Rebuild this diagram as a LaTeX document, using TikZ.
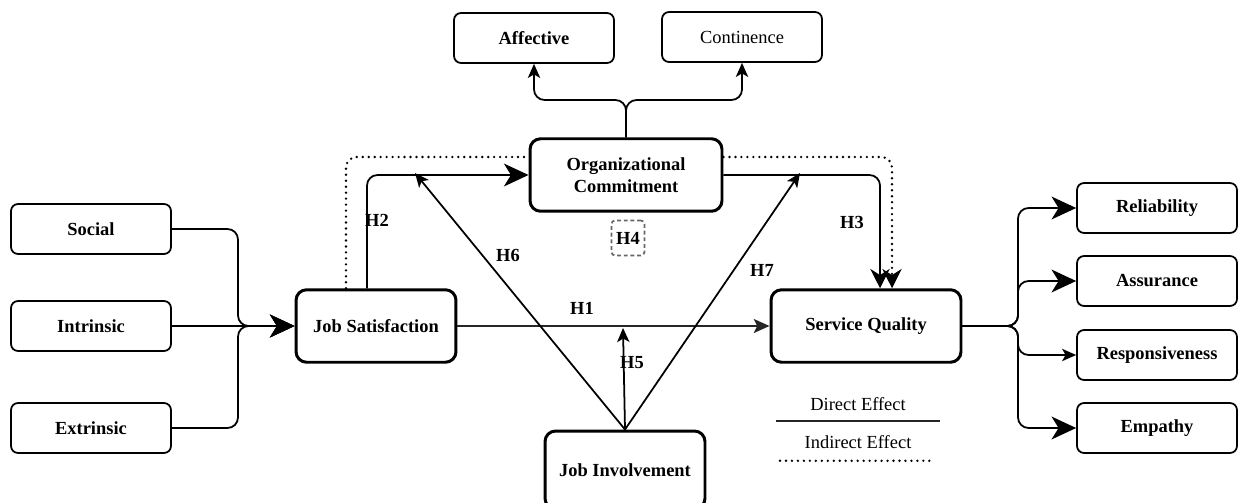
\documentclass[tikz,border=0pt]{standalone}
\usepackage{fontspec}
\setmainfont{Liberation Serif}
\usetikzlibrary{positioning,calc,arrows.meta}

\newcommand{\dgfont}{\fontsize{10.5pt}{12.5pt}\selectfont}

\tikzset{
  dimbox/.style={draw, rounded corners=4pt, line width=1pt, minimum width=3.2cm, minimum height=1cm, font=\dgfont\bfseries},
  mainbox/.style={draw, rounded corners=6pt, line width=1.7pt, minimum width=3.2cm, minimum height=1.45cm, align=center, font=\dgfont\bfseries},
  hlabel/.style={font=\dgfont\bfseries, inner sep=1pt},
  link/.style={line width=1pt, rounded corners=6pt},
  indirect/.style={line width=1.5pt, line cap=round, dash pattern=on 0pt off 3.4pt, rounded corners=6pt},
  bigtip/.style={-{Stealth[length=14pt, width=13pt, inset=4pt]}},
  midtip/.style={-{Stealth[length=8pt, width=7pt, inset=2pt]}},
  toptip/.style={-{Stealth[length=11pt, width=11pt, inset=3.5pt]}},
}

\begin{document}
\begin{tikzpicture}[x=0.02cm, y=-0.02cm]
  \useasboundingbox (0,0) rectangle (1239,503);

  % constructs
  \node[mainbox, minimum width=3.84cm] (oc) at (626,175) {Organizational\\Commitment};
  \node[mainbox] (js) at (376,326) {Job Satisfaction};
  \node[mainbox, minimum width=3.8cm] (sq) at (866,326) {Service Quality};
  \node[mainbox, minimum height=1.56cm] (ji) at (625,470) {Job Involvement};

  % dimensions
  \node[dimbox] (aff) at (534,38) {Affective};
  \node[dimbox, font=\dgfont] (con) at (742,37) {Continence};
  \node[dimbox] (soc) at (91,229) {Social};
  \node[dimbox] (intr) at (91,326) {Intrinsic};
  \node[dimbox] (ext) at (91,428) {Extrinsic};
  \node[dimbox] (rel) at (1157,208) {Reliability};
  \node[dimbox] (asu) at (1157,281) {Assurance};
  \node[dimbox] (res) at (1157,355) {Responsiveness};
  \node[dimbox] (emp) at (1157,428) {Empathy};

  % junction points
  \coordinate (jsin) at (238,326);
  \coordinate (ocsplit) at (626,100);
  \coordinate (sqsplit) at (1018,326);
  \coordinate (m6) at (415,173);
  \coordinate (m7) at (800,173);
  \coordinate (m5) at (623,328);

  % inputs of job satisfaction
  \draw[link, bigtip] (soc.east) -| (jsin) -- (js.west);
  \draw[link, bigtip] (intr.east) -- (js.west);
  \draw[link, bigtip] (ext.east) -| (jsin) -- (js.west);

  % commitment dimensions
  \draw[link, midtip] (oc.north) -- (ocsplit) -| (aff.south);
  \draw[link, midtip] (oc.north) -- (ocsplit) -| (con.south);

  % service quality dimensions
  \draw[link, bigtip] (sq.east) -- (sqsplit) |- (rel.west);
  \draw[link, bigtip] (sq.east) -- (sqsplit) |- (asu.west);
  \draw[link, midtip] (sq.east) -- (sqsplit) |- (res.west);
  \draw[link, bigtip] (sq.east) -- (sqsplit) |- (emp.west);

  % hypotheses
  \draw[link, bigtip] ($(js.north)+(-9,0)$) |- (oc.west);
  \draw[link, toptip] (oc.east) -| ($(sq.north)+(14,0)$);
  \draw[line width=1pt, gray!30!black, -{Stealth[length=9pt, width=8pt, inset=2pt]}] (js.east) -- (sq.west);
  \draw[link, midtip] (ji.north) -- (m6);
  \draw[link, midtip] (ji.north) -- (m7);
  \draw[link, midtip] (ji.north) -- (m5);

  % indirect effect
  \draw[indirect] ($(js.north)+(-30,0)$) |- ($(oc.west)+(0,-18)$);
  \draw[indirect] ($(oc.east)+(0,-18)$) -| ($(sq.north)+(26,-8)$);
  \draw[line width=1pt, toptip] ($(sq.north)+(26,-10)$) -- ($(sq.north)+(26,0)$);

  \node[hlabel] (h1) at (582,308) {H1};
  \node[hlabel] (h2) at (377,220) {H2};
  \node[hlabel] (h3) at (852,222) {H3};
  \node[hlabel, draw=gray!80!black, line width=1pt, dash pattern=on 2.2pt off 1.6pt, rounded corners=2pt, minimum width=0.66cm, minimum height=0.7cm] (h4) at (628,238) {H4};
  \node[hlabel] (h5) at (632,363) {H5};
  \node[hlabel] (h6) at (508,255) {H6};
  \node[hlabel] (h7) at (762,270) {H7};

  % legend
  \node[font=\dgfont] (direct) at (858,404) {Direct Effect};
  \node[font=\dgfont] (indir) at (858,442) {Indirect Effect};
  \draw[line width=1pt, gray!30!black] ($(direct.south)+(-82,4)$) -- ++(164,0);
  \draw[indirect] ($(indir.south)+(-78,6)$) -- ++(150,0);
\end{tikzpicture}
\end{document}
